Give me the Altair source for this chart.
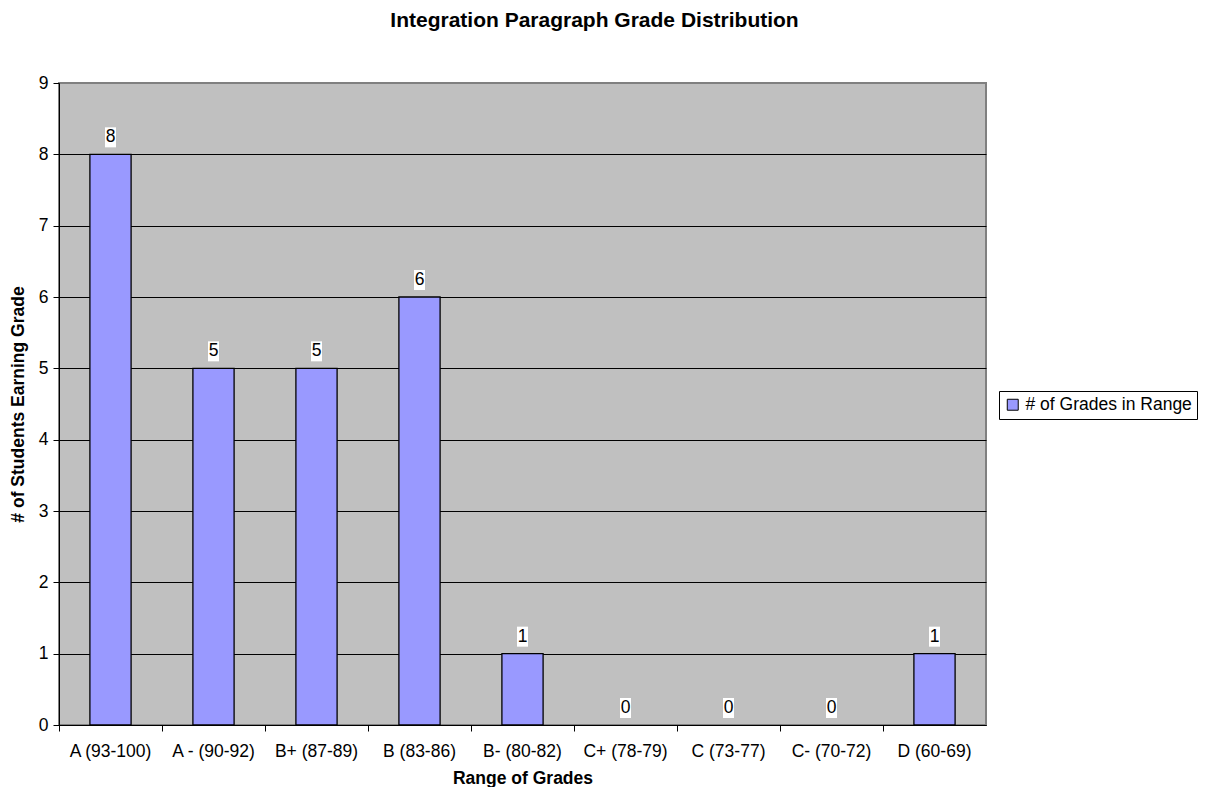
import altair as alt
import pandas as pd

categories = ["A (93-100)", "A - (90-92)", "B+ (87-89)", "B (83-86)", "B- (80-82)",
              "C+ (78-79)", "C (73-77)", "C- (70-72)", "D (60-69)"]
counts = [8, 5, 5, 6, 1, 0, 0, 0, 1]
series_name = "# of Grades in Range"
y_ticks = list(range(0, 10))

df = pd.DataFrame({"grade": categories, "count": counts, "series": [series_name] * len(categories)})

FONT = "Liberation Sans"

x_enc = alt.X("grade:N", sort=categories,
              scale=alt.Scale(paddingInner=0, paddingOuter=0),
              axis=alt.Axis(title="Range of Grades", labelAngle=0, bandPosition=0, grid=False,
                            tickSize=6, tickColor="black", domainColor="black",
                            labelFontSize=17.5, labelFont=FONT, labelColor="black",
                            labelPadding=11, titleFontSize=17.5, titleFont=FONT,
                            titleFontWeight="bold", titleColor="black", titlePadding=10))
y_enc = alt.Y("count:Q", scale=alt.Scale(domain=[0, 9], nice=False, zero=True),
              axis=alt.Axis(title="# of Students Earning Grade", values=y_ticks, format="d",
                            grid=True,
                            gridColor={"condition": {"test": "datum.value >= 9", "value": "#808080"},
                                       "value": "black"},
                            gridWidth=1, tickSize=6, tickColor="black", domainColor="black",
                            labelFontSize=17.5, labelFont=FONT, labelColor="black",
                            labelPadding=5, titleFontSize=17.5, titleFont=FONT,
                            titleFontWeight="bold", titleColor="black", titlePadding=11))

bars = alt.Chart(df).mark_bar(width={"band": 0.4}, stroke="black", strokeWidth=1.3).encode(
    x=x_enc, y=y_enc,
    strokeOpacity=alt.condition("datum.count > 0", alt.value(1), alt.value(0)),
    color=alt.Color("series:N", scale=alt.Scale(range=["#9999FF"]),
                    legend=alt.Legend(title=None, orient="none", legendX=940, legendY=308,
                                      labelFontSize=17.5, labelFont=FONT, labelColor="black",
                                      labelLimit=400,
                                      symbolType="square", symbolSize=120,
                                      symbolStrokeColor="black", symbolStrokeWidth=1,
                                      strokeColor="black", fillColor="white",
                                      padding=5, labelOffset=4))
)

boxes = alt.Chart(df).mark_point(shape="M-0.55,-1H0.55V1H-0.55Z", filled=True, fill="white",
                                 opacity=1, strokeWidth=0, size=400, yOffset=-17).encode(
    x=alt.X("grade:N", sort=categories), y="count:Q")

labels = alt.Chart(df).mark_text(fontSize=17.5, font=FONT, color="black", baseline="middle",
                                 dy=-17).encode(
    x=alt.X("grade:N", sort=categories), y="count:Q", text="count:Q")

chart = alt.layer(bars, boxes, labels).properties(
    width=927, height=642,
    title=alt.TitleParams("Integration Paragraph Grade Distribution", fontSize=21, font=FONT,
                          fontWeight="bold", color="black", anchor="middle", dx=72,
                          baseline="bottom", offset=22),
    autosize=alt.AutoSizeParams(type="none"),
    padding={"left": 51, "top": 75, "right": 214, "bottom": 62},
).configure(background="white").configure_view(fill="#C0C0C0", stroke="#808080", strokeWidth=2)

chart.save("out.html", embed_options={"renderer": "svg", "actions": False})
